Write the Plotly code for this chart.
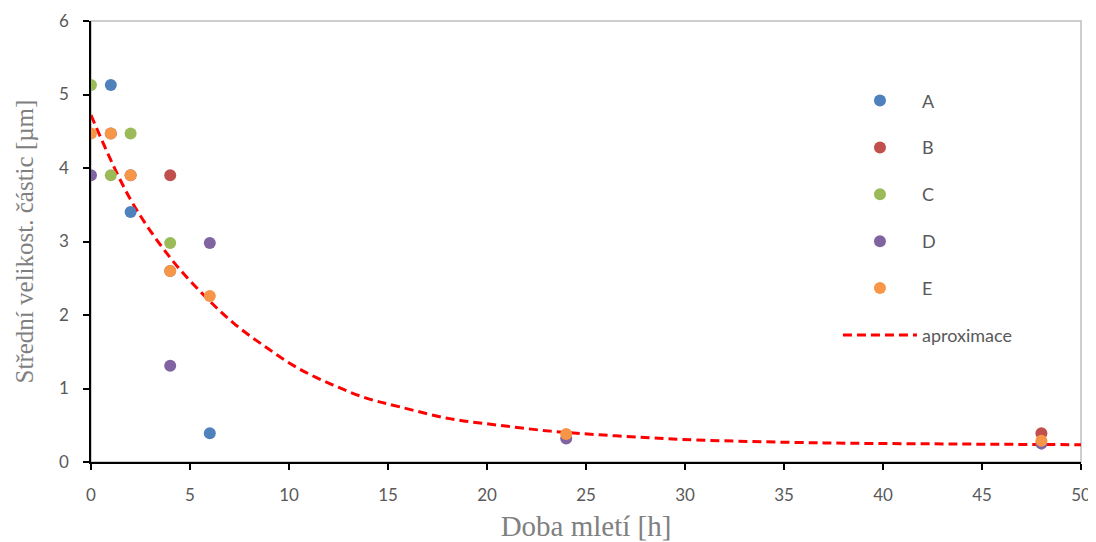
import plotly.graph_objects as go

# Data
series_names = ["A", "B", "C", "D", "E"]
series_colors = ["#4F81BD", "#C0504D", "#9BBB59", "#8064A2", "#F79646"]

a_x = [1, 2, 4, 6]
a_y = [5.13, 3.40, 2.60, 0.39]
b_x = [4, 48]
b_y = [3.90, 0.39]
c_x = [0, 1, 2, 4]
c_y = [5.13, 3.90, 4.47, 2.98]
d_x = [0, 1, 2, 4, 6, 24, 48]
d_y = [3.90, 4.47, 3.90, 1.31, 2.98, 0.32, 0.25]
e_x = [0, 1, 2, 4, 6, 24, 48]
e_y = [4.47, 4.47, 3.90, 2.60, 2.26, 0.38, 0.29]

fit_x = [0, 2, 4, 5.7, 7.2, 8.9, 10.5, 12.2, 13.9, 15.6, 18.1, 20.6, 23.2, 25.7, 28.2, 30.5, 37, 43.7, 50]
fit_y = [4.72, 3.57, 2.78, 2.27, 1.89, 1.55, 1.27, 1.05, 0.87, 0.75, 0.59, 0.50, 0.42, 0.37, 0.33, 0.30, 0.26, 0.245, 0.235]

x_title = "Doba mletí [h]"
y_title = "Střední velikost. částic [µm]"

xs = [a_x, b_x, c_x, d_x, e_x]
ys = [a_y, b_y, c_y, d_y, e_y]

fig = go.Figure()
fig.add_trace(go.Scatter(
    x=fit_x, y=fit_y, mode="lines", name="aproximace", line_shape="spline",
    line=dict(color="#FF0000", width=3, dash="9px,5px"),
    legendgroup="fit", legendrank=1100,
))
for i, (n, c) in enumerate(zip(series_names, series_colors)):
    fig.add_trace(go.Scatter(
        x=xs[i], y=ys[i], mode="markers", name=n,
        marker=dict(color=c, size=12, line=dict(width=0)),
        legendgroup=n, legendrank=1000 + i,
    ))

fig.add_shape(type="rect", xref="paper", yref="paper", x0=0, y0=0, x1=1, y1=1,
              line=dict(color="#BFBFBF", width=1.5), layer="below")

serif = "Liberation Serif, Times New Roman, serif"
fig.update_layout(
    width=1088, height=534,
    margin=dict(l=83, r=15, t=13, b=80, autoexpand=False),
    paper_bgcolor="white", plot_bgcolor="white",
    font=dict(family="Lato, sans-serif", size=17, color="#595959"),
    showlegend=True,
    legend=dict(x=0.7545, y=0.861, xanchor="left", yanchor="top",
                tracegroupgap=20.5, font=dict(size=18, color="#595959"),
                bgcolor="rgba(0,0,0,0)", itemwidth=74),
    xaxis=dict(range=[0, 50], dtick=5, showgrid=False, zeroline=False,
               showline=True, linecolor="black", linewidth=1.5,
               ticks="outside", ticklen=6, tickcolor="black", tickwidth=1.5,
               tickfont=dict(size=17, color="#595959"), ticklabelstandoff=11,
               automargin=False,
               title=dict(text=x_title, standoff=14,
                          font=dict(family=serif, size=29, color="#808080"))),
    yaxis=dict(range=[0, 6], dtick=1, showgrid=False, zeroline=False,
               showline=True, linecolor="black", linewidth=1.5,
               ticks="outside", ticklen=6, tickcolor="black", tickwidth=1.5,
               tickfont=dict(size=17, color="#595959"), ticklabelstandoff=11,
               automargin=False,
               title=dict(text=y_title, standoff=18,
                          font=dict(family=serif, size=25, color="#808080"))),
)

fig.write_html("out.html")
